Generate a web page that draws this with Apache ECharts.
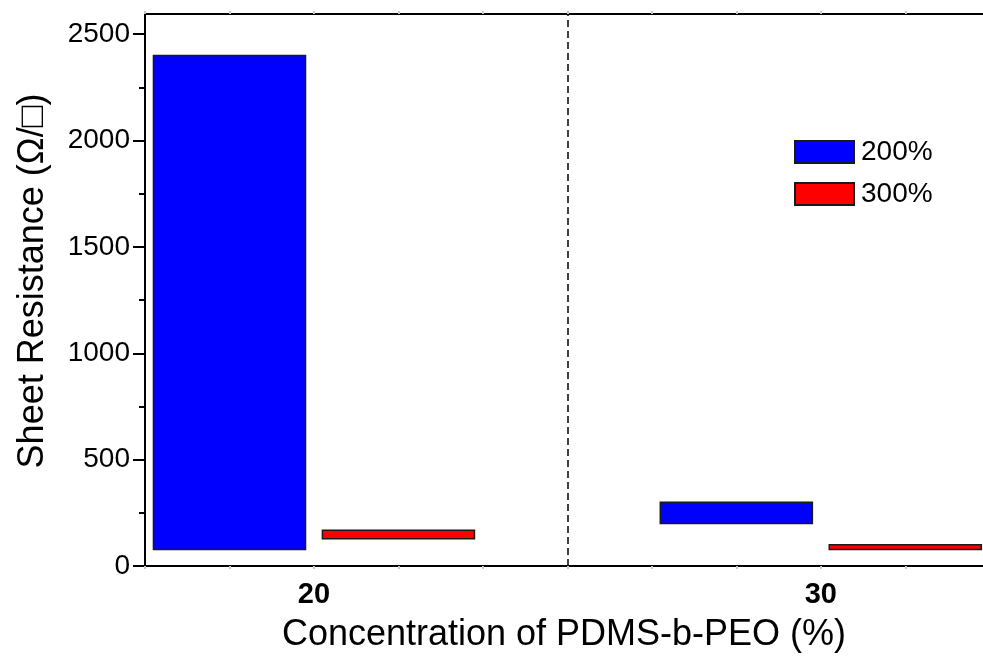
<!DOCTYPE html>
<html>
<head>
<meta charset="utf-8">
<script src="https://cdn.jsdelivr.net/npm/echarts@6/dist/echarts.min.js"></script>
<style>
  html, body { margin: 0; padding: 0; background: #fff; }
  #chart { width: 983px; height: 659px; }
</style>
</head>
<body>
<div id="chart"></div>
<script>
// Sheet resistance ranges (low..high) per PDMS-b-PEO concentration and strain
const concentrations = [20, 30];
const strainNames = ['200%', '300%'];
const low200 = [78, 200];
const high200 = [2400, 300];
const low300 = [128, 78];
const high300 = [168, 100];

// Axis tick values
const yMajorTicks = [0, 500, 1000, 1500, 2000, 2500];
const yMinorTicks = [250, 750, 1250, 1750, 2250];
const xTickValues = [50 / 3, 55 / 3, 20, 65 / 3, 70 / 3, 25, 80 / 3, 85 / 3, 30, 95 / 3];
const xLabelValues = [20, 30];

const FONT = "'Liberation Sans', Arial, Helvetica, sans-serif";
const BAR_HALF = 1.5;     // half bar width in concentration units
const BAR_SHIFT = 5 / 3;  // offset of each strain bar from the group centre

function rows(lows, highs) {
  return concentrations.map((c, i) => [c, lows[i], highs[i]]);
}

function floatingBar(shift) {
  return function (params, api) {
    const x = api.value(0) + shift;
    const topLeft = api.coord([x - BAR_HALF, api.value(2)]);
    const bottomRight = api.coord([x + BAR_HALF, api.value(1)]);
    return {
      type: 'rect',
      shape: {
        x: topLeft[0],
        y: topLeft[1],
        width: bottomRight[0] - topLeft[0],
        height: bottomRight[1] - topLeft[1]
      },
      style: api.style()
    };
  };
}

const chart = echarts.init(document.getElementById('chart'), null, { renderer: 'canvas' });

const axisBlack = { show: true, onZero: false, lineStyle: { color: '#000', width: 2 } };
const plain = (v) => String(v);

chart.setOption({
  animation: false,
  backgroundColor: '#fff',
  grid: { left: 145, right: 0, top: 14, bottom: 93, containLabel: false },
  legend: {
    orient: 'vertical',
    left: 794,
    top: 138,
    padding: 0,
    itemWidth: 59,
    itemHeight: 22,
    itemGap: 14,
    icon: 'rect',
    data: strainNames,
    textStyle: { fontSize: 28, color: '#000', fontFamily: FONT, padding: [0, 0, 0, 2] }
  },
  xAxis: [
    {
      type: 'value',
      position: 'bottom',
      min: 50 / 3,
      max: 33.2,
      axisLine: axisBlack,
      axisTick: { show: true, customValues: xTickValues, length: 3, lineStyle: { color: '#c8c8c8', width: 2 } },
      axisLabel: {
        customValues: xLabelValues,
        formatter: plain,
        fontSize: 29,
        fontWeight: 'bold',
        color: '#000',
        fontFamily: FONT,
        margin: 14
      },
      splitLine: { show: false },
      name: 'Concentration of PDMS-b-PEO (%)',
      nameLocation: 'middle',
      nameGap: 51,
      nameTextStyle: { fontSize: 36, color: '#000', fontFamily: FONT }
    },
    {
      type: 'value',
      position: 'top',
      min: 50 / 3,
      max: 33.2,
      axisLine: axisBlack,
      axisTick: { show: true, customValues: xTickValues, length: 3, lineStyle: { color: '#c8c8c8', width: 2 } },
      axisLabel: { show: false },
      splitLine: { show: false }
    }
  ],
  yAxis: [
    {
      type: 'value',
      position: 'left',
      min: 0,
      max: 2595,
      axisLine: axisBlack,
      axisTick: { show: true, customValues: yMajorTicks, length: 12, lineStyle: { color: '#000', width: 2 } },
      axisLabel: {
        customValues: yMajorTicks,
        formatter: plain,
        fontSize: 28,
        color: '#000',
        fontFamily: FONT,
        margin: 15
      },
      splitLine: { show: false },
      name: 'Sheet Resistance (\u03A9/\u25A1)',
      nameLocation: 'middle',
      nameGap: 94,
      nameRotate: 90,
      nameTextStyle: { fontSize: 36, color: '#000', fontFamily: FONT, padding: [0, 0, 0, 18] }
    },
    {
      type: 'value',
      position: 'left',
      min: 0,
      max: 2595,
      axisLine: { show: false },
      axisTick: { show: true, customValues: yMinorTicks, length: 6, lineStyle: { color: '#000', width: 2 } },
      axisLabel: { show: false },
      splitLine: { show: false }
    }
  ],
  series: [
    {
      name: strainNames[0],
      type: 'custom',
      renderItem: floatingBar(-BAR_SHIFT),
      encode: { x: 0, y: [1, 2] },
      data: rows(low200, high200),
      itemStyle: { color: '#0000ff', borderColor: '#1a1a1a', borderWidth: 1.5 },
      markLine: {
        silent: true,
        symbol: 'none',
        label: { show: false },
        lineStyle: { type: [7, 4], color: '#000', width: 1.5 },
        data: [{ xAxis: 25 }]
      }
    },
    {
      name: strainNames[1],
      type: 'custom',
      renderItem: floatingBar(BAR_SHIFT),
      encode: { x: 0, y: [1, 2] },
      data: rows(low300, high300),
      itemStyle: { color: '#ff0000', borderColor: '#1a1a1a', borderWidth: 1.5 }
    }
  ]
});
</script>
</body>
</html>
